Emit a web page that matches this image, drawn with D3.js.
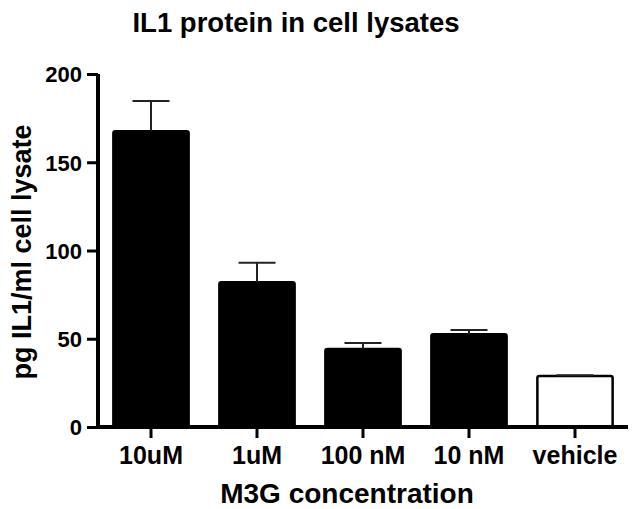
<!DOCTYPE html>
<html>
<head>
<meta charset="utf-8">
<script src="https://cdn.jsdelivr.net/npm/d3@7"></script>
<style>
  body { margin: 0; background: #fff; }
  text { font-family: "Liberation Sans", Arial, sans-serif; font-weight: bold; fill: #000; }
</style>
</head>
<body>
<svg id="chart"></svg>
<script>
const categories = ["10uM", "1uM", "100 nM", "10 nM", "vehicle"]
const means = [167.5, 82, 44.2, 52.6, 28.9]
const errors = [17.2, 11, 3.4, 2.4, 0.4]
const fills = ["#000", "#000", "#000", "#000", "#fff"]
const yTicks = [0, 50, 100, 150, 200]

const W = 634, H = 509
const plotLeft = 98, plotRight = 628, plotTop = 74, plotBottom = 427

const svg = d3.select("#chart").attr("width", W).attr("height", H)

const x = d3.scaleBand().domain(categories).range([plotLeft, plotRight])
  .paddingInner(0.29).paddingOuter(0.145)
const y = d3.scaleLinear().domain([0, 200]).range([plotBottom, plotTop])

// barres
svg.selectAll("rect.bar")
  .data(categories)
  .join("rect")
  .attr("class", "bar")
  .attr("x", d => x(d))
  .attr("y", (d, i) => y(means[i]))
  .attr("width", x.bandwidth())
  .attr("height", (d, i) => plotBottom - y(means[i]))
  .attr("rx", 2)
  .attr("fill", (d, i) => fills[i])
  .attr("stroke", "#000")
  .attr("stroke-width", 2.5)

// barres d'erreur (vers le haut seulement)
const err = svg.selectAll("g.err").data(categories).join("g").attr("class", "err")
err.append("line")
  .attr("x1", d => x(d) + x.bandwidth() / 2)
  .attr("x2", d => x(d) + x.bandwidth() / 2)
  .attr("y1", (d, i) => y(means[i]))
  .attr("y2", (d, i) => y(means[i] + errors[i]))
  .attr("stroke", "#222").attr("stroke-width", 2)
err.append("line")
  .attr("x1", d => x(d) + x.bandwidth() / 2 - 18.5)
  .attr("x2", d => x(d) + x.bandwidth() / 2 + 18.5)
  .attr("y1", (d, i) => y(means[i] + errors[i]))
  .attr("y2", (d, i) => y(means[i] + errors[i]))
  .attr("stroke", "#222").attr("stroke-width", 2)

// axe Y
const yAxis = svg.append("g")
  .attr("transform", `translate(${plotLeft},0)`)
  .call(d3.axisLeft(y).tickValues(yTicks).tickSize(11).tickPadding(5))
yAxis.select(".domain").attr("d", `M0,${plotTop}V${plotBottom}`).attr("stroke", "#000").attr("stroke-width", 4)
yAxis.selectAll(".tick line").attr("stroke", "#000").attr("stroke-width", 3)
yAxis.selectAll(".tick text").style("font-size", "22px").attr("dy", "0.36em")

// axe X
const xAxis = svg.append("g")
  .attr("transform", `translate(0,${plotBottom})`)
  .call(d3.axisBottom(x).tickSize(11).tickPadding(8))
xAxis.select(".domain").attr("d", `M${plotLeft - 2},0H${plotRight}`).attr("stroke", "#000").attr("stroke-width", 4)
xAxis.selectAll(".tick line").attr("stroke", "#000").attr("stroke-width", 3)
xAxis.selectAll(".tick text").style("font-size", "25px").attr("dy", "0.71em")

// titres
svg.append("text")
  .attr("x", 296).attr("y", 32)
  .attr("text-anchor", "middle")
  .style("font-size", "27.5px")
  .text("IL1 protein in cell lysates")

svg.append("text")
  .attr("x", 347).attr("y", 503)
  .attr("text-anchor", "middle")
  .style("font-size", "28px")
  .text("M3G concentration")

svg.append("text")
  .attr("transform", "translate(31,252) rotate(-90)")
  .attr("text-anchor", "middle")
  .style("font-size", "27px")
  .text("pg IL1/ml cell lysate")
</script>
</body>
</html>
